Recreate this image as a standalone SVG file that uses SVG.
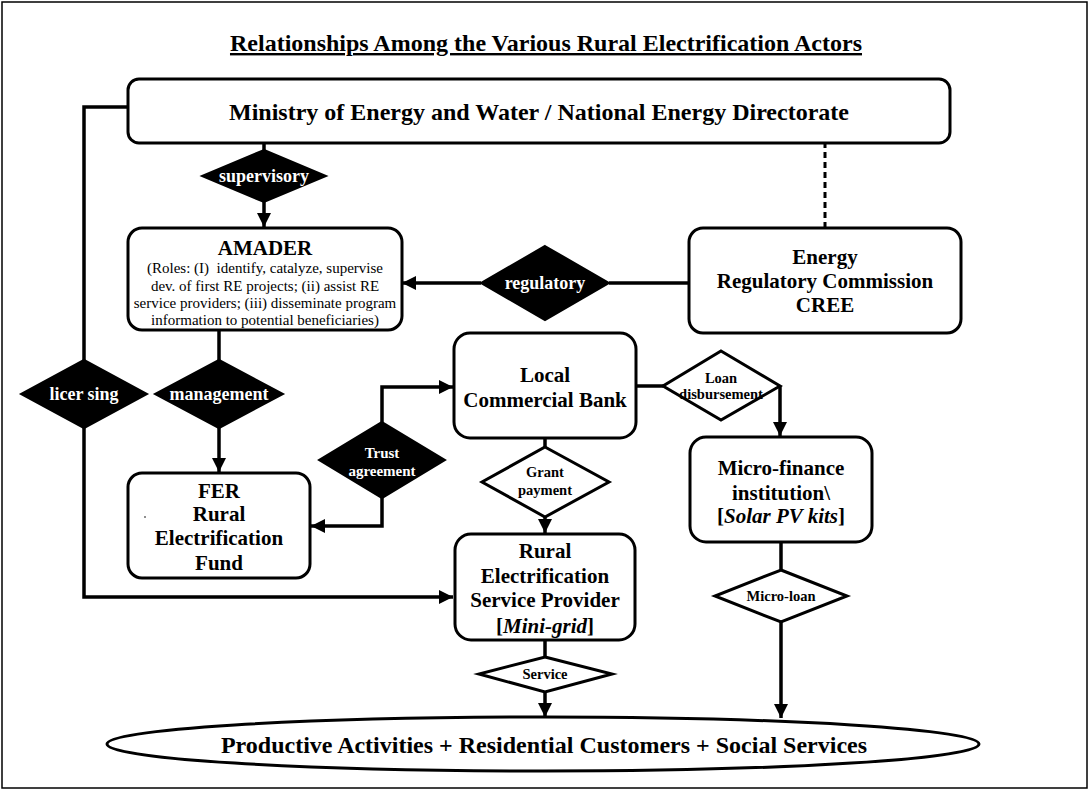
<svg xmlns="http://www.w3.org/2000/svg" width="1089" height="790" viewBox="0 0 1089 790">
<defs>
<marker id="ah" viewBox="0 0 14 14" refX="14" refY="7" markerWidth="14" markerHeight="14" markerUnits="userSpaceOnUse" orient="auto">
<path d="M0,0 L14,7 L0,14 Z" fill="#000"/>
</marker>
</defs>
<style>
.box{fill:#fff;stroke:#000;stroke-width:3}
.dk{fill:#000;stroke:#000;stroke-width:2}
.wd{fill:#fff;stroke:#000;stroke-width:3}
.c{fill:none;stroke:#000;stroke-width:3.5}
.a{marker-end:url(#ah)}
text{font-family:"Liberation Serif","Times New Roman",serif;text-anchor:middle}
.t{font-size:21px;font-weight:bold;fill:#000}
.big{font-size:24px;font-weight:bold;fill:#000}
.r{font-size:15px;fill:#000}
.wl{font-size:18px;font-weight:bold;fill:#fff}
.ws{font-size:15px;font-weight:bold;fill:#fff}
.bl{font-size:14.5px;font-weight:bold;fill:#000}
</style>
<rect x="2" y="2" width="1085" height="786" fill="#fff" stroke="#000" stroke-width="1.5"/>
<text x="546" y="51" class="big" style="text-decoration:underline">Relationships Among the Various Rural Electrification Actors</text>

<g id="connectors">
<path class="c" d="M128,107 H84 V360"/>
<path class="c a" d="M84,428 V597 H453"/>
<path class="c" d="M264,142 V150"/>
<path class="c a" d="M264,202 V227"/>
<path class="c" d="M825,142 V228" stroke-dasharray="6,4" style="stroke-width:3"/>
<path class="c" d="M689,283 H609"/>
<path class="c a" d="M481,283 H402"/>
<path class="c" d="M219,330 V360"/>
<path class="c a" d="M219,428 V472"/>
<path class="c a" d="M382,422 V387 H453"/>
<path class="c a" d="M382,498 V526 H311"/>
<path class="c" d="M636,386 H663"/>
<path class="c a" d="M780,386 V436"/>
<path class="c" d="M545,438 V447"/>
<path class="c a" d="M545,517 V533"/>
<path class="c" d="M545,640 V657"/>
<path class="c a" d="M545,692 V717"/>
<path class="c" d="M781,542 V570"/>
<path class="c a" d="M781,622 V718"/>
</g>

<g id="ministry">
<rect class="box" x="128" y="79" width="822" height="64" rx="11"/>
<text x="539" y="120" class="big">Ministry of Energy and Water / National Energy Directorate</text>
</g>

<g id="supervisory">
<polygon class="dk" points="264,150 326,176 264,202 202,176"/>
<text x="264" y="182" class="wl">supervisory</text>
</g>

<g id="amader">
<rect class="box" x="128" y="228" width="274" height="102" rx="14"/>
<text x="265" y="255" class="t">AMADER</text>
<text x="265" y="273" class="r" xml:space="preserve">(Roles: (I)  identify, catalyze, supervise</text>
<text x="265" y="291" class="r">dev. of first RE projects; (ii) assist RE</text>
<text x="265" y="308" class="r">service providers; (iii) disseminate program</text>
<text x="265" y="325" class="r">information to potential beneficiaries)</text>
</g>

<g id="regulatory">
<polygon class="dk" points="545,246 609,283 545,320 481,283"/>
<text x="545" y="289" class="wl">regulatory</text>
</g>

<g id="cree">
<rect class="box" x="689" y="228" width="272" height="105" rx="14"/>
<text x="825" y="264" class="t">Energy</text>
<text x="825" y="288" class="t">Regulatory Commission</text>
<text x="825" y="312" class="t">CREE</text>
</g>

<g id="licensing">
<polygon class="dk" points="84,360 147,394 84,428 21,394"/>
<text x="84" y="400" class="wl">licer sing</text>
</g>

<g id="management">
<polygon class="dk" points="219,360 283,394 219,428 155,394"/>
<text x="219" y="400" class="wl">management</text>
</g>

<g id="fer">
<rect class="box" x="128" y="473" width="182" height="105" rx="14"/>
<text x="219" y="498" class="t">FER</text>
<text x="219" y="521" class="t">Rural</text>
<text x="219" y="545" class="t">Electrification</text>
<text x="219" y="570" class="t">Fund</text>
<circle cx="145" cy="517" r="0.8" fill="#000"/>
</g>

<g id="trust">
<polygon class="dk" points="382,422 445,460 382,498 319,460"/>
<text x="382" y="458" class="ws">Trust</text>
<text x="382" y="476" class="ws">agreement</text>
</g>

<g id="bank">
<rect class="box" x="454" y="333" width="182" height="105" rx="16"/>
<text x="545" y="382" class="t">Local</text>
<text x="545" y="407" class="t">Commercial Bank</text>
</g>

<g id="loan">
<polygon class="wd" points="721,351 780,386 721,420 663,386"/>
<text x="721" y="383" class="bl">Loan</text>
<text x="721" y="399" class="bl">disbursement</text>
</g>

<g id="microfinance">
<rect class="box" x="690" y="437" width="182" height="105" rx="16"/>
<text x="781" y="475" class="t">Micro-finance</text>
<text x="781" y="500" class="t">institution\</text>
<text x="781" y="523" class="t">[<tspan font-style="italic">Solar PV kits</tspan>]</text>
</g>

<g id="grant">
<polygon class="wd" points="545,447 609,482 545,517 482,482"/>
<text x="545" y="477" class="bl">Grant</text>
<text x="545" y="495" class="bl">payment</text>
</g>

<g id="resp">
<rect class="box" x="455" y="534" width="180" height="106" rx="16"/>
<text x="545" y="558" class="t">Rural</text>
<text x="545" y="583" class="t">Electrification</text>
<text x="545" y="607" class="t">Service Provider</text>
<text x="545" y="633" class="t">[<tspan font-style="italic">Mini-grid</tspan>]</text>
</g>

<g id="service">
<polygon class="wd" points="545,657 612,674 545,692 479,674"/>
<text x="545" y="679" class="bl">Service</text>
</g>

<g id="microloan">
<polygon class="wd" points="781,570 847,596 781,622 715,596"/>
<text x="781" y="601" class="bl">Micro-loan</text>
</g>

<g id="customers">
<ellipse class="box" cx="543" cy="744" rx="436" ry="27"/>
<text x="544" y="753" class="big">Productive Activities + Residential Customers + Social Services</text>
</g>
</svg>
